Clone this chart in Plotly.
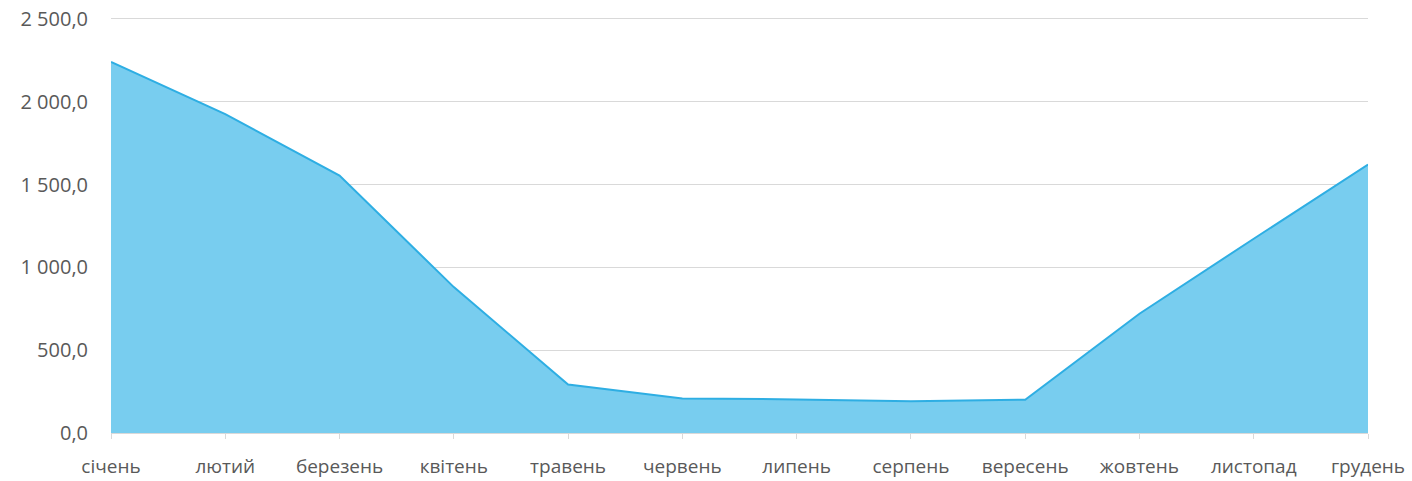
import plotly.graph_objects as go

months = ["січень", "лютий", "березень", "квітень", "травень", "червень",
          "липень", "серпень", "вересень", "жовтень", "листопад", "грудень"]
values = [2241, 1926, 1554, 881, 293, 209, 203, 191, 201, 720, 1173, 1621]
y_ticks = [0, 500, 1000, 1500, 2000, 2500]
y_tick_labels = ["0,0", "500,0", "1 000,0", "1 500,0", "2 000,0", "2 500,0"]

fig = go.Figure()
fig.add_trace(go.Scatter(
    x=list(range(len(months))), y=values, mode="lines",
    fill="tozeroy", fillcolor="#78cdef",
    line=dict(color="#2eaee3", width=2),
    hoverinfo="skip", showlegend=False,
))

font_family = "Open Sans, Noto Sans, sans-serif"
fig.update_layout(
    width=1412, height=481,
    margin=dict(l=111, r=44, t=17, b=48),
    paper_bgcolor="white", plot_bgcolor="white",
    font=dict(family=font_family, size=19, color="#595959"),
)
fig.update_xaxes(
    range=[0, len(months) - 1], automargin=False,
    tickmode="array", tickvals=list(range(len(months))), ticktext=months,
    showgrid=False, zeroline=False,
    showline=True, linecolor="#d9d9d9", linewidth=1,
    ticks="outside", ticklen=5, tickcolor="#d9d9d9",
    ticklabelstandoff=11, ticklabeloverflow="allow",
    tickfont=dict(size=19, color="#595959"),
)
fig.update_yaxes(
    range=[0, 2512], automargin=False,
    tickmode="array", tickvals=y_ticks, ticktext=y_tick_labels,
    showgrid=True, gridcolor="#d9d9d9", gridwidth=1,
    zeroline=False, showline=False, ticks="",
    ticklabelstandoff=22, ticklabeloverflow="allow",
    tickfont=dict(size=20, color="#595959"),
)
fig.write_html(
    "out.html",
    config={"displayModeBar": False, "staticPlot": True},
    post_script="document.body.style.margin='0';document.body.style.overflow='hidden';",
)
